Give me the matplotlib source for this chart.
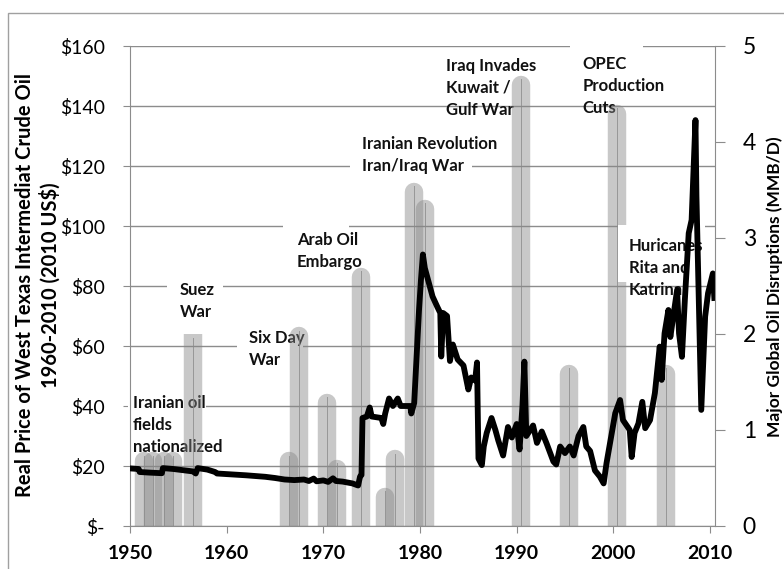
import matplotlib
matplotlib.use("Agg")
import matplotlib.pyplot as plt
from matplotlib.patches import Rectangle

plt.rcParams['font.family'] = ['Lato', 'DejaVu Sans']

# WTI real price (2010 US$)
years = [1950.0, 1950.9, 1951.0, 1952.0, 1953.3, 1953.4, 1954.5, 1955.5, 1956.5, 1956.8,
         1957.0, 1958.0, 1958.8, 1959.0, 1960.0, 1962.0, 1964.0, 1965.0, 1966.0, 1967.0,
         1968.0, 1968.5, 1969.0, 1969.3, 1970.0, 1970.5, 1971.0, 1971.3, 1972.0, 1973.0,
         1973.6, 1973.8, 1973.95, 1974.05, 1974.5, 1974.8, 1975.0, 1976.0, 1976.2, 1976.4,
         1976.8, 1977.2, 1977.7, 1978.0, 1979.0, 1979.1, 1979.4, 1979.9, 1980.1, 1980.3,
         1980.5, 1981.0, 1981.3, 1981.8, 1982.1, 1982.2, 1982.4, 1982.8, 1983.1, 1983.4,
         1983.9, 1984.5, 1985.0, 1985.3, 1985.7, 1985.9, 1986.05, 1986.4, 1986.6, 1986.9,
         1987.4, 1987.8, 1988.1, 1988.6, 1989.1, 1989.5, 1990.0, 1990.3, 1990.6, 1990.8,
         1991.0, 1991.7, 1992.1, 1992.6, 1993.1, 1993.8, 1994.1, 1994.5, 1995.0, 1995.5,
         1995.9, 1996.4, 1996.9, 1997.2, 1997.6, 1998.1, 1998.6, 1999.0, 1999.3, 2000.2,
         2000.7, 2001.0, 2001.7, 2001.9, 2002.2, 2002.6, 2003.0, 2003.3, 2003.8, 2004.3,
         2004.8, 2005.0, 2005.3, 2005.7, 2005.9, 2006.2, 2006.6, 2006.8, 2007.1, 2007.4,
         2007.8, 2008.1, 2008.5, 2008.6, 2009.1, 2009.5, 2009.8, 2010.3, 2010.45]
price = [19.2, 19.0, 18.0, 17.8, 17.6, 19.3, 19.0, 18.6, 18.2, 17.5,
         19.3, 18.8, 18.0, 17.5, 17.3, 16.9, 16.4, 16.0, 15.5, 15.3,
         15.5, 15.0, 15.8, 14.9, 15.2, 14.7, 15.9, 15.0, 14.8, 14.2,
         13.5, 16.5, 17.0, 36.0, 36.5, 39.5, 36.5, 36.0, 34.0, 37.5,
         42.5, 40.0, 42.5, 40.0, 40.0, 37.5, 41.0, 72.0, 82.0, 90.5,
         86.0, 80.0, 76.5, 73.0, 71.0, 56.5, 71.0, 70.0, 55.0, 60.5,
         55.5, 53.5, 45.5, 49.5, 48.5, 54.5, 22.5, 20.3, 26.5, 31.0,
         36.0, 32.0, 28.5, 23.5, 33.0, 29.5, 34.0, 25.5, 40.0, 54.8,
         30.0, 33.5, 27.7, 31.5, 27.5, 21.5, 20.5, 26.5, 24.3, 26.5,
         23.5, 30.0, 33.0, 26.5, 25.0, 18.5, 16.5, 14.2, 21.0, 37.6,
         42.0, 35.3, 32.0, 23.0, 31.0, 34.2, 41.4, 32.6, 35.3, 44.3,
         59.8, 48.7, 64.2, 72.0, 63.0, 69.8, 78.7, 64.2, 56.4, 75.3,
         97.6, 102.0, 135.3, 110.0, 38.7, 69.8, 77.6, 84.2, 76.0]

# disruptions (MMB/D), right axis
bar_years = [1951.4, 1952.4, 1953.5, 1954.4, 1956.5, 1966.5, 1967.5, 1970.4, 1971.4,
             1973.85, 1976.4, 1977.4, 1979.4, 1980.5, 1990.5, 1995.4, 2000.4, 2005.4]
bar_mmbd = [0.77, 0.77, 0.77, 0.77, 2.0, 0.77, 2.07, 1.38, 0.69,
            2.69, 0.40, 0.79, 3.58, 3.40, 4.69, 1.68, 4.39, 1.68]
bar_round = [True, True, True, True, False, True, True, True, True,
             True, True, True, True, True, True, True, True, True]

event_labels = ["Iranian oil\nfields\nnationalized", "Suez\nWar", "Six Day\nWar",
                "Arab Oil\nEmbargo", "Iranian Revolution\nIran/Iraq War",
                "Iraq Invades\nKuwait /\nGulf War", "OPEC\nProduction\nCuts",
                "Huricanes\nRita and\nKatrina"]
label_x = [1950.3, 1955.15, 1962.3, 1967.25, 1974.0, 1982.7, 1996.85, 2001.6]
label_y = [33.6, 74.9, 59.1, 91.6, 123.7, 146.1, 146.7, 85.9]

# white text boxes that hide the gridlines (x0, x1, y0, y1)
boxes = [(1949.8, 1957.9, 24.7, 43.7), (1953.8, 1959.6, 68, 82.7), (1961.1, 1967.9, 52, 66),
         (1965.8, 1972.65, 84.7, 101.3), (1972.76, 1985.4, 116, 132), (1995.5, 2003.07, 142, 162.7)]
hurricane_box = (2000.45, 2009.48, 81.3, 100.3)

grey = '#8c8c8c'

fig = plt.figure(figsize=(7.84, 5.69), dpi=100)
ax = fig.add_axes([130 / 784, 1 - 526 / 569, 585 / 784, 480 / 569])
ax2 = ax.twinx()

ax.set_axisbelow(True)
ax.yaxis.grid(True, color=grey, lw=1)

for x0, x1, y0, y1 in boxes:
    ax.add_patch(Rectangle((x0, y0), x1 - x0, y1 - y0, facecolor='white', edgecolor='none',
                           zorder=1, clip_on=False))
x0, x1, y0, y1 = hurricane_box
ax.add_patch(Rectangle((x0, y0), x1 - x0, y1 - y0, facecolor='white', edgecolor='none', zorder=2.2))

# bars drawn as thick lines with rounded tops, in right-axis units
r = 0.096
for x, v, rnd in zip(bar_years, bar_mmbd, bar_round):
    if rnd:
        ax.plot([x, x], [-1, v - r], color='#868686', alpha=0.45, lw=13.3,
                solid_capstyle='round', transform=ax2.transData, zorder=2)
    else:
        ax.plot([x, x], [0, v], color='#868686', alpha=0.45, lw=13.3,
                solid_capstyle='butt', transform=ax2.transData, zorder=2)
    ax.plot([x, x], [0, v - r * 0.4], color='#8a8a8a', lw=0.7, alpha=0.8,
            transform=ax2.transData, zorder=2.1)

for txt, x, y in zip(event_labels, label_x, label_y):
    z = 2.3 if txt.startswith("Huricanes") else 1.5
    ax.text(x, y, txt, ha='left', va='center', fontsize=12, fontweight='bold',
            linespacing=1.45, zorder=z, color='#111111')

ax.plot(years, price, color='black', lw=4.2, zorder=3, solid_joinstyle='round')

ax.set_xlim(1950, 2010.52)
ax.set_ylim(0, 160)
ax2.set_ylim(0, 5)

ax.set_xticks(range(1950, 2011, 10))
ax.set_yticks(range(0, 161, 20))
ax.set_yticklabels(['$-'] + ['$%d' % v for v in range(20, 161, 20)])
ax2.set_yticks(range(0, 6))

for s in ['top', 'right']:
    ax.spines[s].set_visible(False)
for s in ['left', 'bottom']:
    ax.spines[s].set_color(grey)
for s in ['top', 'left', 'bottom']:
    ax2.spines[s].set_visible(False)
ax2.spines['right'].set_color(grey)

ax.tick_params(axis='y', direction='out', length=5, color=grey, pad=13, labelsize=14)
ax.tick_params(axis='x', direction='out', length=5, color=grey, pad=9, labelsize=14)
ax2.tick_params(axis='y', direction='out', length=7, color=grey, pad=13, labelsize=16.5)
for lbl in ax.get_xticklabels():
    lbl.set_fontweight('bold')

fig.text(38 / 784, 1 - 285 / 569,
         "Real Price of West Texas Intermediat Crude Oil\n1960-2010 (2010 US$)",
         rotation=90, ha='center', va='center', fontsize=14.5, fontweight='bold', linespacing=1.22)
fig.text(775 / 784, 1 - 287 / 569, "Major Global Oil Disruptions (MMB/D)",
         rotation=90, ha='center', va='center', fontsize=12.5, fontweight='bold')

fig.patches.append(Rectangle((8 / 784, -0.1), 1.2, 0.1 + 1 - 13 / 569, transform=fig.transFigure,
                             fill=False, edgecolor='#a0a0a0', lw=1))

fig.savefig("out.png", dpi=100)
